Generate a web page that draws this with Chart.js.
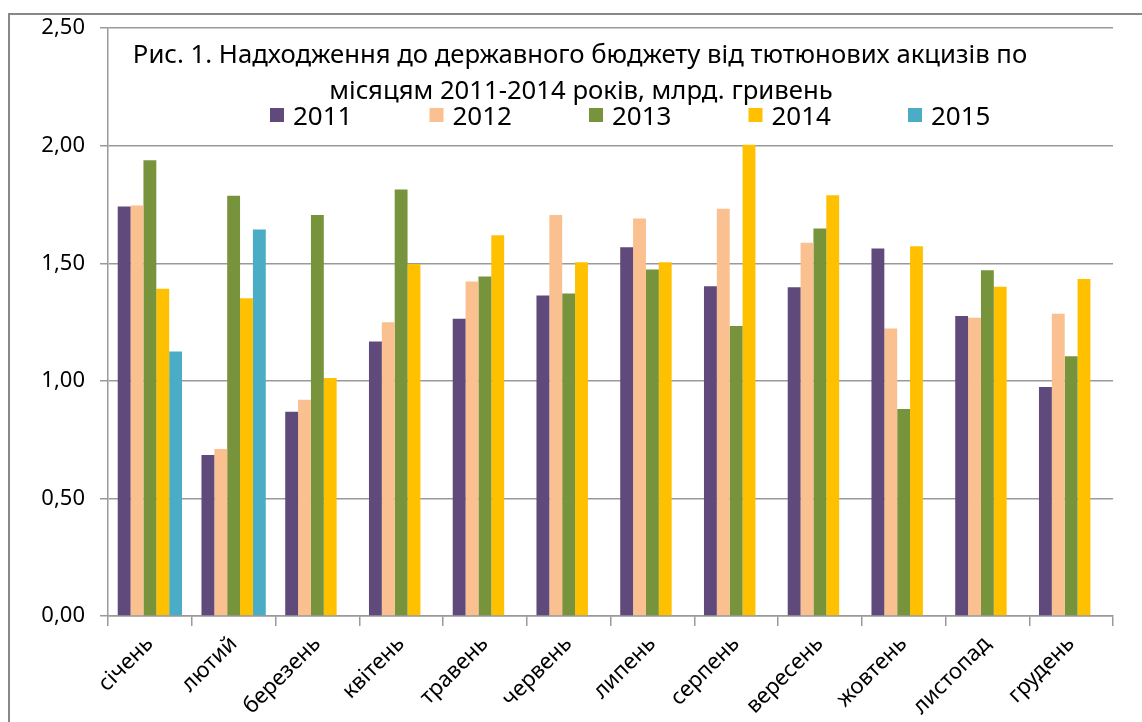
<!DOCTYPE html>
<html>
<head>
<meta charset="utf-8">
<script src="https://cdn.jsdelivr.net/npm/chart.js@4.4.1/dist/chart.umd.min.js"></script>
<style>
  html, body { margin: 0; padding: 0; background: #fff; }
  #caja { width: 1142px; height: 722px; position: relative; }
</style>
</head>
<body>
<div id="caja"><canvas id="grafico"></canvas></div>
<script>
// Datos (млрд. гривень)
const meses = ['січень', 'лютий', 'березень', 'квітень', 'травень', 'червень',
               'липень', 'серпень', 'вересень', 'жовтень', 'листопад', 'грудень'];
const anios = ['2011', '2012', '2013', '2014', '2015'];

const v2011 = [1.742, 0.685, 0.869, 1.168, 1.264, 1.363, 1.568, 1.403, 1.398, 1.563, 1.276, 0.974];
const v2012 = [1.746, 0.710, 0.920, 1.249, 1.423, 1.705, 1.691, 1.732, 1.587, 1.223, 1.268, 1.285];
const v2013 = [1.938, 1.787, 1.706, 1.814, 1.444, 1.372, 1.474, 1.233, 1.648, 0.880, 1.471, 1.105];
const v2014 = [1.392, 1.351, 1.012, 1.497, 1.619, 1.505, 1.505, 2.004, 1.789, 1.573, 1.400, 1.433];
const v2015 = [1.125, 1.644, null, null, null, null, null, null, null, null, null, null];

const ticksY = [0, 0.5, 1, 1.5, 2, 2.5];

const titulo = ['Рис. 1. Надходження до державного бюджету від тютюнових акцизів по',
                'місяцям 2011-2014 років, млрд. гривень'];

const colores = ['#604A7B', '#FAC090', '#77933C', '#FFC000', '#4BACC6'];
const gris = '#9a9a9a';
const fuente = '"Noto Sans", "DejaVu Sans", sans-serif';

const series = [v2011, v2012, v2013, v2014, v2015];

// titulo, leyenda y marco dibujados dentro del area del grafico
const decoracion = {
  id: 'decoracion',
  beforeDraw(chart) {
    const ctx = chart.ctx;
    ctx.save();
    ctx.strokeStyle = '#888';
    ctx.lineWidth = 2;
    ctx.strokeRect(9, 14, 1200, 800);
    ctx.restore();
  },
  afterDraw(chart) {
    const ctx = chart.ctx;
    ctx.save();
    ctx.fillStyle = '#000';
    ctx.font = '25.7px ' + fuente;
    ctx.textAlign = 'center';
    ctx.textBaseline = 'alphabetic';
    ctx.fillText(titulo[0], 580, 63);
    ctx.fillText(titulo[1], 581, 99);

    ctx.font = '26px ' + fuente;
    ctx.textAlign = 'left';
    chart.data.datasets.forEach((ds, i) => {
      const x = 270 + i * 159.5;
      ctx.fillStyle = ds.backgroundColor;
      ctx.fillRect(x, 108, 14, 14);
      ctx.fillStyle = '#000';
      ctx.fillText(ds.label, x + 23, 125);
    });
    ctx.restore();
  }
};

const ctx = document.getElementById('grafico');

new Chart(ctx, {
  type: 'bar',
  data: {
    labels: meses,
    datasets: anios.map((a, i) => ({
      label: a,
      data: series[i],
      backgroundColor: colores[i],
      borderWidth: 0,
      categoryPercentage: 0.768,
      barPercentage: 1.0
    }))
  },
  options: {
    responsive: true,
    maintainAspectRatio: false,
    animation: false,
    layout: { padding: { top: 28, right: 29, left: 0, bottom: 0 } },
    plugins: {
      legend: { display: false },
      title: { display: false },
      tooltip: { enabled: false }
    },
    scales: {
      x: {
        offset: true,
        grid: { offset: true, drawOnChartArea: false, drawTicks: true, tickLength: 10, color: gris, lineWidth: 1.5 },
        border: { color: gris, width: 1.5 },
        ticks: {
          color: '#000',
          font: { family: fuente, size: 22 },
          minRotation: 45, maxRotation: 45,
          autoSkip: false,
          padding: 5
        },
        afterFit(scale) { scale.height = 106; }
      },
      y: {
        min: 0, max: 2.5,
        afterBuildTicks(scale) { scale.ticks = ticksY.map(v => ({ value: v })); },
        grid: { color: gris, lineWidth: 1.5, tickLength: 8 },
        border: { color: gris, width: 1.5 },
        ticks: {
          color: '#000',
          font: { family: fuente, size: 22 },
          padding: 15,
          callback: v => v.toFixed(2).replace('.', ',')
        },
        afterFit(scale) { scale.width = 108; }
      }
    }
  },
  plugins: [decoracion]
});
</script>
</body>
</html>
